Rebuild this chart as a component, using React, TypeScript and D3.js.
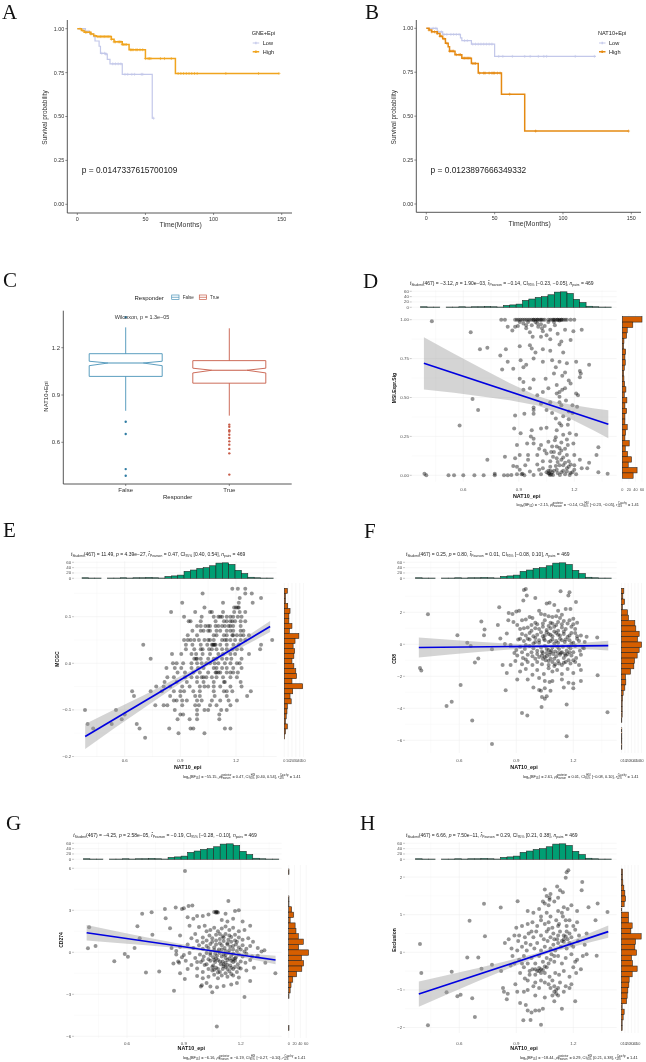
import React from 'react';
import * as d3 from 'd3';

type Pt = [number, number];
type Part = string | { i?: string; sub?: string; sup?: string };

// ---- survival curves, [months, probability]
const gneLow: Pt[] = [[0, 1], [6, 0.985], [9, 0.97], [12, 0.955], [13, 0.93], [16, 0.9], [17, 0.86], [21, 0.855], [22, 0.825], [24, 0.8], [33, 0.74], [55, 0.49], [56, 0.49]];
const gneHigh: Pt[] = [[0, 1], [3, 0.99], [5, 0.98], [10, 0.97], [12, 0.96], [14, 0.955], [25, 0.94], [27, 0.925], [33, 0.91], [38, 0.88], [50, 0.83], [72, 0.745], [148, 0.745]];
const gneLowCens = [2, 6, 8, 18, 20, 21, 26, 28, 30, 32, 35, 37, 40, 42, 47, 48, 56];
const gneHighCens = [4, 6, 7, 9, 10, 13, 15, 16, 17, 18, 19, 20, 21, 22, 23, 24, 25, 27, 28, 30, 31, 32, 33, 34, 35, 36, 39, 40, 41, 43, 44, 46, 48, 50, 52, 53, 54, 61, 64, 69, 74, 76, 78, 80, 82, 84, 86, 88, 109, 133, 148];
const natLow: Pt[] = [[0, 1], [8, 0.98], [12, 0.965], [25, 0.945], [26, 0.93], [33, 0.91], [50, 0.84], [124, 0.84]];
const natHigh: Pt[] = [[0, 1], [2, 0.99], [4, 0.98], [8, 0.97], [10, 0.955], [12, 0.94], [14, 0.915], [16, 0.895], [17, 0.87], [21, 0.85], [26, 0.83], [33, 0.8], [38, 0.745], [55, 0.625], [72, 0.415], [148, 0.415]];
const natLowCens = [5, 7, 9, 11, 13, 15, 18, 20, 22, 24, 28, 30, 34, 36, 38, 40, 42, 44, 46, 48, 53, 56, 63, 72, 76, 82, 86, 88, 109, 123];
const natHighCens = [2, 4, 6, 8, 10, 11, 13, 15, 17, 18, 19, 20, 22, 24, 25, 27, 28, 29, 30, 31, 32, 34, 35, 36, 39, 42, 43, 46, 48, 49, 50, 52, 54, 61, 80, 148];

// ---- boxplot
const boxGroups = ['False', 'True'];
const boxStats = [
  { lo: 0.8, q1: 1.018, nlo: 1.086, med: 1.103, nhi: 1.114, q3: 1.162, hi: 1.329 },
  { lo: 0.769, q1: 0.975, nlo: 1.04, med: 1.057, nhi: 1.07, q3: 1.118, hi: 1.323 },
];
const boxOutFalse = [1.393, 0.73, 0.653, 0.43, 0.388];
const boxOutTrue = [0.712, 0.698, 0.677, 0.668, 0.648, 0.627, 0.606, 0.585, 0.558, 0.53, 0.395];

// ---- marginal histograms
const xCounts = [2, 1, 1, 0, 1, 1, 2, 1, 2, 2, 3, 2, 1, 7, 9, 12, 26, 31, 37, 40, 47, 57, 58, 52, 30, 18, 4, 2, 1, 1];
const dHist = [60, 32, 15, 13, 5, 4, 10, 8, 9, 6, 4, 5, 7, 11, 6, 14, 8, 13, 8, 8, 15, 10, 8, 21, 9, 16, 28, 18, 45, 33];
const eHist = [8, 3, 3, 9, 15, 12, 12, 20, 13, 38, 28, 23, 27, 25, 20, 25, 30, 32, 20, 48, 22, 15, 18, 8, 7, 5, 3, 8, 3, 1];
const fHist = [7, 4, 9, 3, 18, 21, 40, 43, 53, 48, 60, 53, 47, 39, 37, 27, 12, 13, 10, 5, 3, 2, 2, 2, 1, 0, 1, 1, 1, 1];
const gHist = [1, 0, 0, 0, 0, 1, 1, 10, 17, 5, 22, 25, 33, 50, 34, 68, 44, 51, 45, 27, 14, 8, 5, 1, 0, 0, 0, 0, 0, 1];
const hHist = [3, 3, 4, 7, 10, 12, 8, 1, 21, 21, 32, 28, 59, 42, 40, 45, 30, 33, 47, 32, 23, 22, 19, 17, 15, 2, 8, 5, 2, 2];

// ---- regression bands, read at these x positions
const bandX = [0.387, 0.55, 0.7, 0.85, 1.0, 1.1, 1.2, 1.3, 1.384];
const dHi = [0.888, 0.781, 0.687, 0.593, 0.509, 0.473, 0.45, 0.431, 0.418];
const dLo = [0.552, 0.531, 0.507, 0.483, 0.449, 0.407, 0.35, 0.291, 0.238];
const eHi = [-0.13, -0.098, -0.069, -0.038, -0.007, 0.017, 0.042, 0.069, 0.091];
const eLo = [-0.184, -0.138, -0.097, -0.056, -0.017, 0.007, 0.028, 0.049, 0.067];
const fHi = [0.42, 0.28, 0.157, 0.055, -0.017, -0.005, 0.067, 0.149, 0.22];
const fLo = [-0.82, -0.64, -0.483, -0.345, -0.237, -0.225, -0.273, -0.331, -0.38];
const gHi = [1.95, 1.49, 1.08, 0.68, 0.3, 0.11, -0.04, -0.16, -0.24];
const gLo = [0.85, 0.67, 0.5, 0.32, 0.1, -0.09, -0.34, -0.62, -0.86];
const hHi = [-0.775, -0.59, -0.415, -0.23, -0.03, 0.14, 0.33, 0.54, 0.71];
const hLo = [-1.445, -1.09, -0.765, -0.45, -0.15, 0.02, 0.15, 0.28, 0.39];
const dLine: Pt = [0.72, 0.328];
const eLine: Pt = [-0.157, 0.079];
const fLine: Pt = [-0.2, -0.08];
const gLine: Pt = [1.4, -0.55];
const hLine: Pt = [-1.11, 0.55];

// ---- scatter points
const dPts: Pt[] = [
  [.39,.01],[.40,0],[.43,.99],[.52,0],[.55,0],[.60,0],[.66,0],[.71,0],[.77,.01],[.77,0],[.82,0],[.84,0],[.58,.32],[.65,.49],[.68,.42],[.64,.92],[.69,.81],[.73,.82],[.73,.10],[.83,.81],[.80,.77],[.84,.73],[.81,.68],[.805,1],[.825,1],[.84,.955],[1.28,.71],[1.33,.18],[1.32,.13],[1.33,.02],[1.38,.01],[1.28,.08],[1.27,.045],[1.23,.67],[1.23,.63],
  [.88,1],[.89,1],[.90,1],[.91,1],[.92,1],[.93,1],[.94,1],[.95,1],[.96,1],[.97,1],[.98,1],[.99,1],[1,1],[1.01,1],[1.02,1],[1.03,1],[1.04,1],[1.06,1],[1.07,1],[1.08,1],[1.09,1],[1.1,1],[1.11,1],[1.12,1],[1.13,1],[1.14,1],[1.15,1],[1.16,1],[1.18,1],[1.2,1],[.98,1],[1.0,1],[1.02,1],[1.09,1],[1.11,1],[1.13,1],
  [.88,.955],[.905,.985],[.925,.975],[.94,.965],[.99,.985],[1.005,.955],[1.025,.945],[1.03,.925],[1.07,.935],[1.095,.965],[1.12,.995],[1.15,.935],[1.195,.925],[1.24,.935],[.94,.945],[.865,.93],[.895,.96],[.975,.89],[1.02,.89],[1.07,.875],[1.13,.86],[1.12,.84],[1.18,.87],[.905,.83],[.96,.835],[.97,.815],[1.03,.81],[.99,.79],[1.07,.8],[.91,.74],[.98,.75],[.94,.71],[1.03,.73],[1.08,.74],[1.12,.73],[1.16,.72],[1.21,.73],[.925,.695],[1.1,.695],[.87,.685],[.905,.62],[.925,.6],[.98,.615],[1.045,.62],[1.135,.64],[1.17,.61],[1.235,.655],[1.06,.56],[1.105,.58],[1.18,.59],[1.135,.55],[1.15,.56],[1.105,.525],[1.12,.535],[.925,.55],[.96,.56],[1,.515],[1.03,.535],[1.21,.525],[1.22,.515],[1.12,.505],[1.07,.47],[1.02,.46],[.98,.435],[.98,.42],[1.13,.45],[1.19,.45],[1.215,.44],[1.17,.41],[1.19,.4],[.88,.385],[.93,.395],[.98,.395],[1.1,.365],[1.12,.335],[1.13,.32],[1.165,.325],[1.05,.305],[1.02,.3],[.97,.29],[.875,.3],[.91,.27],[.965,.25],[.98,.235],[1.105,.29],[1.14,.26],[1.175,.27],[1.21,.26],
  [.89,.195],[.945,.205],[.98,.205],[1.02,.195],[1.06,.215],[1.095,.225],[1.08,.185],[1.04,.16],[1.105,.185],[1.13,.16],[1.165,.195],[1.195,.205],[.905,.13],[.95,.13],[1.0,.13],[1.05,.14],[1.085,.12],[1.12,.14],[1.16,.13],[1.2,.13],[.88,.11],[.825,.12],[.95,.1],[1.03,.09],[1.07,.09],[1.105,.11],[1.13,.1],[1.17,.09],[1.23,.1],[.87,.06],[.89,.055],[.935,.065],[1.0,.07],[1.03,.045],[1.07,.055],[1.12,.065],[1.14,.065],[1.17,.055],[1.2,.065],[1.24,.045],[.905,.035],[.96,.025],[1.01,.035],[1.06,.03],[1.105,.035],[1.16,.025],[1.2,.035],[.86,.002],[.89,.006],[.915,.006],[.93,0],[.98,.002],[1.02,.006],[1.06,.013],[1.068,.002],[1.085,.002],[1.122,.002],[1.15,.006],[1.175,.002],[1.21,.006],[1.065,.01],[1.075,.005],[1.13,.02],[1.18,.015],[.92,.01],
  [1.08,.02],[1.09,.03],[1.11,.015],[1.14,.03],[1.16,.045],[1.19,.02],[1.05,.02],[1.07,.03],[1.1,.06],[1.15,.08],[1.18,.07],[1.11,.085],[1.09,.15],[1.12,.175],[1.15,.17],[1.14,.115],[1.075,.15],[1.01,.17],[1.1,.245],[1.13,.21],[1.16,.23],[.95,.985],[.97,.965],[1.0,.975],[1.04,.96],[1.06,.985],[1.09,.985],[1.02,.97],[1.11,.91],[1.05,.9],[.96,.92],[1.14,.79],[1.09,.655],[1.15,.66],[1.12,.47],[1.155,.48],[1.17,.36],[1.14,.38],[1.08,.4],[1.05,.42],
];

const eRows: [number, number[]][] = [
  [.16, [1.18, 1.21, 1.25]],
  [.15, [1.02, 1.25, 1.285]],
  [.14, [1.22, 1.335]],
  [.13, [.91, 1.13, 1.215, 1.29]],
  [.12, [1.03, 1.19, 1.2, 1.21, 1.215]],
  [.11, [.85, .98, 1.06, 1.07, 1.13, 1.19, 1.22, 1.25]],
  [.10, [.92, 1.015, 1.08, 1.105, 1.115, 1.125, 1.15, 1.17, 1.185, 1.21, 1.23]],
  [.09, [.945, .955, 1.01, 1.09, 1.135, 1.15, 1.17, 1.18, 1.195, 1.225, 1.25]],
  [.08, [.99, 1.01, 1.035, 1.05, 1.06, 1.09, 1.105, 1.125, 1.14, 1.16, 1.17, 1.185, 1.225]],
  [.07, [.965, 1.01, 1.025, 1.05, 1.06, 1.095, 1.115, 1.15, 1.17, 1.185, 1.225, 1.24]],
  [.06, [.94, .99, 1.08, 1.095, 1.135, 1.15, 1.18, 1.185, 1.205, 1.225, 1.24, 1.27]],
  [.05, [.92, .94, .955, .975, 1.0, 1.03, 1.05, 1.06, 1.08, 1.125, 1.14, 1.15, 1.17, 1.195, 1.225, 1.25, 1.395]],
  [.04, [.70, .93, .965, 1.01, 1.045, 1.07, 1.08, 1.09, 1.115, 1.15, 1.186, 1.215, 1.335, 1.075, 1.085]],
  [.03, [.93, .975, 1.01, 1.02, 1.055, 1.07, 1.095, 1.125, 1.15, 1.18, 1.205, 1.23, 1.33]],
  [.02, [.855, .905, .96, .985, 1.02, 1.06, 1.105, 1.13, 1.17, 1.195, 1.27]],
  [.01, [.74, .975, .985, .99, 1.01, 1.05, 1.08, 1.095, 1.125, 1.15, 1.175, 1.23]],
  [0, [.86, .88, .915, .96, .99, 1.015, 1.04, 1.06, 1.085, 1.105, 1.14, 1.17, 1.205, 1.22]],
  [-.01, [.825, .87, .905, .96, .995, 1.025, 1.08, 1.095, 1.125, 1.15, 1.185, 1.23]],
  [-.02, [.885, .925, .97, 1.005, 1.05, 1.09, 1.095, 1.105, 1.115, 1.15, 1.17, 1.185, 1.21]],
  [-.03, [.83, .865, .925, .96, .99, 1.015, 1.025, 1.04, 1.07, 1.095, 1.13, 1.17, 1.205]],
  [-.04, [.815, .88, .935, .99, 1.025, 1.08, 1.135, 1.14, 1.225]],
  [-.05, [.77, .81, .845, .91, .95, 1.005, 1.03, 1.05, 1.08, 1.115, 1.17, 1.23]],
  [-.06, [.64, .74, .80, .865, .90, .92, .97, 1.005, 1.08, 1.135, 1.15, 1.18, 1.28]],
  [-.07, [.65, .845, .90, .98, 1.005, 1.085, 1.15, 1.26]],
  [-.08, [.865, .88, .91, .935, .99, 1.015, 1.07, 1.115, 1.16, 1.205]],
  [-.09, [.765, .81, .83, .91, .98, 1.0, 1.06, 1.095, 1.17]],
  [-.10, [.386, .553, .87, .99, 1.03, 1.05, 1.12, 1.15]],
  [-.11, [.60, .90, .915, .99, 1.11]],
  [-.12, [.584, .885, .95, .99, 1.11]],
  [-.13, [.40, .53, .665]],
  [-.14, [.43, .68, .84, .955, .97, 1.14, 1.17]],
  [-.15, [.89, 1.03]],
  [-.16, [.71]],
];

const fPts: Pt[] = [
  [.393,-1.48],[.40,-1.63],[.435,1.88],[.533,-3.86],[.56,-3.59],[.607,-2.54],[.59,.56],[.642,.1],[.66,-.1],[.668,-4.76],[.682,-1.13],[.70,-.89],[.716,1.42],[.733,.93],[.73,.56],[.772,-.31],[.772,-6.23],[.803,1.2],[.81,2.31],[.816,.37],[.828,-1.3],[.844,-2.87],[.84,.02],[.858,1.5],[.85,.68],[.86,1.95],[.93,-4.29],[.958,-4.45],[1.033,-3.92],[1.165,-3.77],[1.165,-5.75],[1.38,-4.25],[1.326,.43],[1.328,-1.94],[1.27,.47],[1.256,-.25],[1.214,2.64],[.94,3.4],[.95,3.46],[.937,2.74],[.955,3.05],[1.0,2.9],[1.133,3.32],[1.18,3.26],[1.174,3.05],
  [.88,1.9],[.9,2.05],[.915,2.1],[.885,1.4],[.905,1.2],[.93,1.5],[.95,1.55],[.97,1.7],[.985,1.65],[1.0,1.35],[1.02,2.1],[1.03,1.9],[1.05,1.85],[1.06,2.55],[1.075,2.6],[1.1,2.45],[1.12,2.1],[1.14,1.85],[1.16,2.2],[1.185,2.2],[1.2,1.6],[1.07,1.75],[1.09,1.7],[1.11,1.75],[1.13,1.65],[1.05,1.5],[1.08,1.35],[1.12,1.4],[1.15,1.45],[1.18,1.5],[1.22,1.35],
  [.92,.95],[.94,1.0],[.96,1.05],[.98,.85],[1.0,1.0],[1.02,.95],[1.04,1.1],[1.06,.9],[1.08,1.0],[1.1,1.1],[1.12,.85],[1.14,1.05],[1.16,.95],[1.19,1.1],[1.21,.95],[.93,.65],[.95,.55],[.97,.7],[.99,.5],[1.01,.6],[1.03,.75],[1.05,.55],[1.07,.65],[1.09,.5],[1.11,.7],[1.13,.55],[1.15,.65],[1.17,.45],[1.19,.7],[1.22,.5],[1.24,.55],[.91,.3],[.94,.2],[.97,.3],[1.0,.15],[1.02,.25],[1.045,.35],[1.07,.15],[1.09,.3],[1.11,.2],[1.13,.35],[1.155,.15],[1.18,.25],[1.2,.1],[1.23,.2],[1.26,.15],
  [.87,-.05],[.89,-.55],[.92,-.15],[.945,-.3],[.97,-.1],[.99,-.25],[1.01,-.4],[1.03,-.2],[1.05,-.1],[1.07,-.35],[1.09,-.2],[1.105,-.45],[1.125,-.3],[1.145,-.15],[1.165,-.4],[1.185,-.25],[1.21,-.1],[1.235,-.4],[1.25,-.2],[.905,-.7],[.935,-.85],[.96,-.65],[.985,-.75],[1.01,-.6],[1.035,-.7],[1.05,-.8],[1.06,-.55],[1.075,-.65],[1.08,-.9],[1.095,-.6],[1.11,-.75],[1.13,-.65],[1.15,-.85],[1.17,-.6],[1.19,-.7],[1.215,-.85],[1.24,-.65],[.87,-1.3],[.895,-1.05],[.93,-1.25],[.96,-1.1],[.985,-1.3],[1.01,-1.1],[1.035,-1.25],[1.055,-1.0],[1.07,-1.3],[1.09,-1.1],[1.105,-1.25],[1.12,-1.05],[1.14,-1.3],[1.16,-1.1],[1.185,-1.2],[1.21,-1.1],[1.23,-1.3],[.85,-1.8],[.92,-1.7],[.95,-1.55],[.985,-1.9],[1.01,-1.6],[1.045,-1.85],[1.07,-1.5],[1.09,-1.7],[1.115,-1.6],[1.14,-1.85],[1.17,-1.55],[1.2,-1.8],[1.24,-1.6],[.905,-2.2],[.96,-2.2],[1.02,-2.1],[1.05,-2.3],[1.075,-2.35],[1.09,-2.3],[1.14,-2.2],[1.175,-2.4],[1.2,-2.45],[1.24,-2.3],[.99,-2.7],[1.02,-2.85],[1.03,-2.9],[1.05,-2.75],[1.08,-2.9],[1.15,-2.7],[1.2,-2.75],[1.035,-3.3],[1.05,-3.4],[1.06,-3.25],
  [1.04,-.55],[1.06,-.75],[1.08,-.5],[1.1,-.9],[1.12,-.55],[1.14,-.5],[1.16,-.7],[1.18,-.5],[1.035,-.45],[1.06,-.3],[1.085,-.4],[1.115,-.15],[1.135,-.55],[1.155,-.6],[1.175,-.15],[1.2,-.5],[1.02,-.8],[1.04,-.9],[1.07,-1.05],[1.1,-1.35],[1.125,-1.2],[1.15,-1.15],[1.175,-1.0],[1.2,-1.0],[.99,.05],[1.02,.1],[1.05,.25],[1.08,.2],[1.1,.05],[1.12,.1],[1.14,.25],[1.16,.3],[1.19,.05],[1.22,.35],[1.0,.4],[1.04,.5],[1.06,.75],[1.08,.6],[1.1,.8],[1.12,.6],[1.15,.8],[1.18,.55],[1.21,.7],[.98,1.2],[1.01,1.25],[1.04,1.3],[1.07,1.15],[1.09,1.3],[1.11,1.2],[1.14,1.25],[1.17,1.3],[1.2,1.25],[.96,.35],[.95,-.05],[.93,-.5],[.98,-.5],[1.0,-.9],[.95,-.95],[.92,.35],[.9,-.35],
];

const gPts: Pt[] = [
  [.906,5.81],[.394,.29],[.40,1.79],[.434,.45],[.533,-.64],[.588,-.12],[.605,-.31],[.64,.31],[.655,1.86],[.68,2.76],[.667,1.0],[.70,-1.45],[.73,2.86],[.734,1.26],[.77,-1.38],[.80,3.1],[.804,2.43],[.827,1.71],[.848,-2.74],[.857,3.2],[.89,3.1],[.9,3.15],[.925,3.3],[.945,3.35],[1.074,-5.3],[1.22,-3.2],[1.135,3.67],[1.383,-1.5],[1.33,-.75],[1.325,.15],
  [.835,.3],[.86,.1],[.845,-.8],[.87,-.65],[.9,-.2],[.88,1.2],[.92,2.5],[.93,1.9],[.95,2.4],[.97,2.6],[.96,1.3],[1.0,2.6],[1.03,2.7],[1.07,2.9],[1.075,2.88],[1.12,2.75],[1.17,2.95],[1.19,3.0],[1.1,2.3],[1.13,2.2],[1.16,2.4],[1.21,2.2],[1.25,1.9],
  [.98,1.8],[1.01,1.9],[1.02,1.5],[1.04,1.6],[1.06,1.75],[1.08,1.5],[1.1,1.7],[1.12,1.85],[1.14,1.6],[1.16,1.75],[1.19,1.5],[1.22,1.6],[.94,1.0],[.97,.8],[1.0,1.05],[1.02,.85],[1.035,1.2],[1.05,1.0],[1.07,1.25],[1.09,.95],[1.105,1.15],[1.12,1.3],[1.135,.9],[1.15,1.1],[1.17,.85],[1.19,1.05],[1.21,.9],[1.24,1.0],[1.265,.75],
  [.88,.4],[.92,.55],[.95,.3],[.98,.5],[1.0,.25],[1.02,.45],[1.04,.6],[1.06,.35],[1.07,.55],[1.085,.2],[1.1,.5],[1.115,.3],[1.13,.65],[1.145,.4],[1.16,.2],[1.175,.55],[1.19,.35],[1.21,.5],[1.23,.25],[1.25,.45],[1.29,.3],[1.31,.05],[.86,-.15],[.89,-.35],[.93,-.05],[.96,-.4],[.985,-.15],[1.005,-.3],[1.02,-.05],[1.04,-.2],[1.055,-.35],[1.065,-.1],[1.075,-.25],[1.09,-.05],[1.1,-.3],[1.11,-.15],[1.12,-.4],[1.135,-.05],[1.15,-.25],[1.16,-.1],[1.175,-.35],[1.19,-.15],[1.21,-.3],[1.23,-.1],[1.26,-.3],[1.29,-.25],
  [.875,-.75],[.91,-.6],[.94,-.9],[.97,-.7],[1.0,-.55],[1.02,-.85],[1.04,-.6],[1.055,-.95],[1.065,-.7],[1.08,-.55],[1.095,-.85],[1.105,-.65],[1.12,-.75],[1.13,-.55],[1.145,-.95],[1.16,-.7],[1.17,-.6],[1.185,-.85],[1.2,-.65],[1.225,-.75],[1.25,-.55],[.92,-1.2],[.97,-1.15],[1.0,-1.4],[1.03,-1.2],[1.05,-1.3],[1.07,-1.1],[1.09,-1.4],[1.105,-1.2],[1.12,-1.05],[1.14,-1.35],[1.16,-1.2],[1.18,-1.4],[1.2,-1.15],[1.23,-1.3],[1.27,-1.1],[.97,-1.7],[1.0,-1.85],[1.03,-1.75],[1.06,-1.6],[1.08,-1.85],[1.1,-1.65],[1.13,-1.75],[1.16,-1.65],[1.19,-1.8],[1.25,-2.05],[.99,-2.45],[.995,-2.35],[1.02,-2.2],[1.04,-2.45],[1.05,-2.85],[1.075,-2.5],[1.11,-2.4],[1.15,-2.3],[1.18,-2.2],[.905,-1.9],[.88,-1.5],
  [1.07,-.45],[1.09,-.65],[1.11,-.85],[1.13,-.9],[1.15,-.6],[1.17,-.45],[1.12,-.2],[1.14,-.45],[1.16,-.5],[1.06,-.55],[1.04,-.05],[1.06,.15],[1.08,.05],[1.1,.2],[1.12,.1],[1.14,.15],[1.16,.45],[1.18,.1],[1.2,.2],[1.22,.05],[1.0,.7],[1.03,.3],[1.05,.75],[1.07,.85],[1.09,.65],[1.11,.8],[1.13,.55],[1.15,.75],[1.18,.75],[1.06,2.88],[1.07,2.82],[1.08,2.85],[1.09,1.3],[1.11,1.05],[1.14,1.2],[1.17,1.25],[.99,-.7],[1.01,-.9],[1.03,-.5],[1.05,-1.05],[1.08,-1.2],[1.11,-1.0],[1.13,-1.2],[1.15,-1.1],[1.17,-1.05],[1.19,-1.1],[1.08,-1.45],[1.12,-1.5],[1.15,-1.55],[1.06,-1.25],
];

const hPts: Pt[] = [
  [.393,.22],[.40,-.55],[.435,-1.94],[.56,-.52],[.533,-1.06],[.59,-1.17],[.607,-1.13],[.642,-.14],[.654,.84],[.668,-1.22],[.682,-1.72],[.70,-.14],[.73,1.29],[.735,.43],[.717,-.44],[.772,-.33],[.818,1.19],[.907,1.36],[.937,-1.81],[1.03,-1.93],[1.328,1.3],[1.38,1.07],[1.323,-.09],[1.317,.85],[1.28,1.2],[1.174,2.18],[1.165,2.13],[1.16,1.98],[1.247,1.87],[1.244,1.65],[1.05,1.67],
  [.82,-.5],[.83,-.95],[.835,-1.05],[.85,-1.25],[.855,-1.1],[.84,.25],[.86,.35],[.87,-.35],[.88,-.1],[.895,-.85],[.905,-1.05],[.92,-1.35],[.94,-1.05],[.95,-1.4],[.96,-1.55],[.98,-1.6],[1.0,-1.55],[1.02,-1.55],[1.04,-1.5],[.975,-1.8],[1.1,-1.3],[1.14,-1.5],[1.21,-1.3],[1.11,-1.1],[1.05,-1.2],[1.0,-1.15],[.96,-1.0],[.99,-.9],
  [1.02,-.95],[1.07,-.85],[1.1,-1.05],[1.12,-.95],[1.16,-.9],[1.19,-.85],[.92,-.55],[.945,-.7],[.97,-.5],[.985,-.45],[1.0,-.6],[1.02,-.5],[1.03,-.45],[1.05,-.55],[1.06,-.4],[1.075,-.65],[1.09,-.75],[1.105,-.55],[1.125,-.6],[1.15,-.5],[1.18,-.65],[1.215,-.55],[1.24,-.45],[.89,-.3],[.915,-.2],[.94,-.1],[.96,-.3],[.98,-.15],[1.0,-.3],[1.02,-.1],[1.04,-.25],[1.06,-.15],[1.07,-.3],[1.085,-.05],[1.1,-.25],[1.12,-.1],[1.14,-.3],[1.16,-.15],[1.19,-.05],[1.21,-.25],[1.25,-.1],[1.27,-.05],
  [.875,.1],[.905,.05],[.93,.15],[.955,.05],[.975,.2],[.995,.1],[1.01,.25],[1.03,.05],[1.05,.15],[1.065,.3],[1.08,.1],[1.095,.2],[1.105,.05],[1.12,.25],[1.135,.15],[1.15,.35],[1.165,.1],[1.18,.25],[1.2,.15],[1.225,.3],[1.26,.2],[.89,.45],[.915,.45],[.945,.4],[.965,.5],[.99,.4],[1.005,.55],[1.03,.45],[1.045,.35],[1.06,.55],[1.08,.4],[1.095,.5],[1.115,.35],[1.13,.55],[1.15,.45],[1.165,.55],[1.19,.4],[1.21,.6],[1.23,.45],[1.27,.5],[.9,.65],[.93,.7],[.96,.75],[.985,.8],[1.01,.7],[1.03,.85],[1.05,.75],[1.07,.8],[1.09,.65],[1.11,.85],[1.125,.75],[1.145,.95],[1.165,.7],[1.18,.85],[1.2,.7],[1.22,.8],[1.03,.95],
  [.96,1.1],[.99,1.05],[1.02,1.15],[1.05,1.3],[1.07,1.25],[1.075,1.4],[1.1,1.35],[1.12,1.45],[1.14,1.05],[1.17,1.15],[1.19,1.25],[1.22,1.1],[1.06,1.5],[1.08,1.55],[1.115,1.75],[1.13,1.65],[1.145,1.6],[1.075,1.45],[1.04,1.35],
  [1.0,-.45],[1.01,-.5],[1.02,-.42],[1.03,-.55],[1.04,-.47],[1.05,-.38],[.97,-.6],[1.08,-.2],[1.1,-.1],[1.14,.3],[1.15,.28],[1.16,.42],[1.17,.35],[1.18,.5],[1.12,.45],[1.1,.35],[1.08,-.95],[1.1,-.9],[1.11,-1.0],[1.09,-1.15],[1.12,-1.15],[1.13,-.8],[1.15,-1.05],[1.18,-.95],[1.05,-.8],[1.03,-.75],[1.0,-.8],[.96,-.75],[.94,-.4],[1.2,-.4],[1.22,-.2],[1.19,.2],[1.12,.7],[1.16,.85],[1.07,.62],[.98,.55],[.95,.25],[.91,.3],[.93,-.3],[1.12,1.1],[1.15,1.2],[1.08,.95],[1.06,1.05],
];

// ---- texts
const eStats = ['11.49', '4.39e−27', '0.47', '[0.40, 0.54]', '−55.15', '0.47', '[0.40, 0.54]'];
const dStats = ['−3.12', '1.90e−03', '−0.14', '[−0.23, −0.05]', '−2.15', '−0.14', '[−0.23, −0.05]'];
const fStats = ['0.25', '0.80', '0.01', '[−0.08, 0.10]', '2.61', '0.01', '[−0.08, 0.10]'];
const gStats = ['−4.25', '2.58e−05', '−0.19', '[−0.28, −0.10]', '−6.16', '−0.19', '[−0.27, −0.10]'];
const hStats = ['6.66', '7.50e−11', '0.29', '[0.21, 0.38]', '−18.44', '0.29', '[0.21, 0.38]'];

const SANS = '"Liberation Sans", Arial, sans-serif';
const GREY = '#4d4d4d';

const Stat = ({ x, y, size, parts, anchor }: { x: number; y: number; size: number; parts: Part[]; anchor?: string }) => (
  <text x={x} y={y} fontSize={size} fontFamily={SANS} fill="#222" textAnchor={anchor}>
    {parts.map((p, i) => {
      if (typeof p === 'string') return <tspan key={i} y={y}>{p}</tspan>;
      if (p.i) return <tspan key={i} y={y} fontStyle="italic">{p.i}</tspan>;
      const small = size * 0.66;
      return (
        <React.Fragment key={i}>
          {p.sub && <tspan y={y + size * 0.28} fontSize={small}>{p.sub}</tspan>}
          {p.sup && <tspan y={y - size * 0.42} fontSize={small} dx={p.sub ? -p.sub.length * small * 0.5 : 0}>{p.sup}</tspan>}
        </React.Fragment>
      );
    })}
  </text>
);

const topParts = (s: string[]): Part[] => [
  { i: 't' }, { sub: 'Student' }, '(467) = ' + s[0] + ', ', { i: 'p' }, ' = ' + s[1] + ', ', { i: 'r̂' }, { sub: 'Pearson' },
  ' = ' + s[2] + ', CI', { sub: '95%' }, ' ' + s[3] + ', ', { i: 'n' }, { sub: 'pairs' }, ' = 469',
];
const bottomParts = (s: string[]): Part[] => [
  'log', { sub: 'e' }, '(BF', { sub: '01' }, ') = ' + s[4] + ', ', { i: 'ρ̂' }, { sub: 'Pearson', sup: 'posterior' },
  ' = ' + s[5] + ', CI', { sub: '95%', sup: 'HDI' }, ' ' + s[6] + ', ', { i: 'r' }, { sub: 'JZS', sup: 'Cauchy' }, ' = 1.41',
];

interface KmProps {
  lowCurve: Pt[]; highCurve: Pt[]; lowCens: number[]; highCens: number[]; legend: string; p: string;
  x0: number; x150: number; y0: number; y1: number; axisX: number; axisY: number; right: number;
  legendX: number; pX: number; high: string;
}

const KmPanel = (k: KmProps) => {
  const x = d3.scaleLinear().domain([0, 150]).range([k.x0, k.x150]);
  const y = d3.scaleLinear().domain([0, 1]).range([k.y0, k.y1]);
  const line = d3.line<Pt>().x(d => x(d[0])).y(d => y(d[1])).curve(d3.curveStepAfter);
  const at = (c: Pt[], t: number) => c[Math.max(0, d3.bisectRight(c.map(d => d[0]), t) - 1)][1];
  const series = [
    { c: k.lowCurve, cens: k.lowCens, col: '#c3c8ea', w: 1.2 },
    { c: k.highCurve, cens: k.highCens, col: k.high, w: 1.5 },
  ];
  return (
    <g>
      <line x1={k.axisX} x2={k.axisX} y1={20} y2={k.axisY} stroke="#444" strokeWidth={0.9} />
      <line x1={k.axisX} x2={k.right} y1={k.axisY} y2={k.axisY} stroke="#444" strokeWidth={0.9} />
      {[0, 50, 100, 150].map(t => (
        <g key={t}>
          <line x1={x(t)} x2={x(t)} y1={k.axisY} y2={k.axisY + 2} stroke="#444" strokeWidth={0.6} />
          <text x={x(t)} y={k.axisY + 7.5} fontSize={5.4} fontFamily={SANS} textAnchor="middle" fill="#333">{t}</text>
        </g>
      ))}
      {[0, 0.25, 0.5, 0.75, 1].map(t => (
        <g key={t}>
          <line x1={k.axisX - 2} x2={k.axisX} y1={y(t)} y2={y(t)} stroke="#444" strokeWidth={0.6} />
          <text x={k.axisX - 3} y={y(t) + 1.9} fontSize={5.4} fontFamily={SANS} textAnchor="end" fill="#333">{t.toFixed(2)}</text>
        </g>
      ))}
      <text x={(k.axisX + k.right) / 2 + 1} y={k.axisY + 14} fontSize={6.9} fontFamily={SANS} textAnchor="middle" fill="#333">Time(Months)</text>
      <text transform={`translate(${k.axisX - 20},${(k.y0 + k.y1) / 2 + 1}) rotate(-90)`} fontSize={6.5} fontFamily={SANS} textAnchor="middle" fill="#333">Survival probability</text>
      {series.map((s, i) => (
        <g key={i}>
          <path d={line(s.c) || ''} fill="none" stroke={s.col} strokeWidth={s.w} />
          {s.cens.map((t, j) => (
            <path key={j} d={`M${x(t)},${y(at(s.c, t)) - 1.5}v3M${x(t) - 1.5},${y(at(s.c, t))}h3`} stroke={s.col} strokeWidth={0.6} />
          ))}
        </g>
      ))}
      <text x={k.pX} y={172.5} fontSize={8.4} fontFamily={SANS} fill="#222">{k.p}</text>
      <text x={k.legendX} y={35} fontSize={5.6} fontFamily={SANS} fill="#222">{k.legend}</text>
      {['Low', 'High'].map((l, i) => (
        <g key={l}>
          <path d={`M${k.legendX + 1},${43 + i * 8.8}h6.5M${k.legendX + 4.2},${41.7 + i * 8.8}v2.6`} stroke={series[i].col} strokeWidth={series[i].w} />
          <text x={k.legendX + 11} y={45 + i * 8.8} fontSize={5.6} fontFamily={SANS} fill="#222">{l}</text>
        </g>
      ))}
    </g>
  );
};

const BoxPanel = () => {
  const y = d3.scaleLinear().domain([0.6, 1.2]).range([442.3, 347.7]);
  const x = d3.scalePoint().domain(boxGroups).range([125.7, 229.3]);
  const cols = ['#4a93b8', '#c75c48'];
  const outs = [boxOutFalse, boxOutTrue];
  const half = 36.5;
  const waist = 17.5;
  return (
    <g>
      <line x1={63.3} x2={63.3} y1={310.7} y2={484} stroke="#444" strokeWidth={0.9} />
      <line x1={63.3} x2={291.7} y1={484} y2={484} stroke="#444" strokeWidth={0.9} />
      {[0.6, 0.9, 1.2].map(t => (
        <g key={t}>
          <line x1={61.3} x2={63.3} y1={y(t)} y2={y(t)} stroke="#444" strokeWidth={0.6} />
          <text x={60} y={y(t) + 2.1} fontSize={6} fontFamily={SANS} textAnchor="end" fill="#333">{t.toFixed(1)}</text>
        </g>
      ))}
      {boxGroups.map((g, i) => {
        const cx = x(g) as number;
        const s = boxStats[i];
        const body = `M${cx - half},${y(s.q3)}V${y(s.nhi)}L${cx - waist},${y(s.med)}L${cx - half},${y(s.nlo)}V${y(s.q1)}H${cx + half}V${y(s.nlo)}L${cx + waist},${y(s.med)}L${cx + half},${y(s.nhi)}V${y(s.q3)}Z`;
        return (
          <g key={g}>
            <line x1={cx} x2={cx} y1={484} y2={486} stroke="#444" strokeWidth={0.6} />
            <text x={cx} y={492} fontSize={6} fontFamily={SANS} textAnchor="middle" fill="#333">{g}</text>
            <path d={`M${cx},${y(s.q3)}V${y(s.hi)}M${cx},${y(s.q1)}V${y(s.lo)}`} stroke={cols[i]} strokeWidth={0.9} />
            <path d={body} fill="none" stroke={cols[i]} strokeWidth={0.9} />
            <line x1={cx - waist} x2={cx + waist} y1={y(s.med)} y2={y(s.med)} stroke={cols[i]} strokeWidth={1.1} />
            {outs[i].map((v, j) => <circle key={j} cx={cx} cy={y(v)} r={1.2} fill={i === 0 ? '#2f7ca3' : cols[i]} />)}
          </g>
        );
      })}
      <text x={177.7} y={498.5} fontSize={6} fontFamily={SANS} textAnchor="middle" fill="#222">Responder</text>
      <text transform={`translate(47.5,${396.5}) rotate(-90)`} fontSize={6} fontFamily={SANS} textAnchor="middle" fill="#222">NAT10+Epi</text>
      <text x={114.7} y={318.7} fontSize={5.5} fontFamily={SANS} fill="#333">Wilcoxon, p = 1.3e−05</text>
      <text x={134.5} y={299.5} fontSize={6} fontFamily={SANS} fill="#222">Responder</text>
      {boxGroups.map((g, i) => (
        <g key={g}>
          <rect x={171.7 + i * 27.6} y={295} width={7.3} height={4.6} fill="none" stroke={cols[i]} strokeWidth={0.7} />
          <line x1={171.7 + i * 27.6} x2={179 + i * 27.6} y1={297.3} y2={297.3} stroke={cols[i]} strokeWidth={0.7} />
          <text x={182.7 + i * 27.4} y={299} fontSize={4.6} fontFamily={SANS} fill="#333">{g}</text>
        </g>
      ))}
    </g>
  );
};

interface ScatterProps {
  pts: Pt[]; hist: number[]; hi: number[]; lo: number[]; fit: Pt; stats: string[];
  yLabel: string; yTicks: number[]; yFmt: (v: number) => string; yMinor: number[];
  x06: number; x12: number; yDomain: Pt; yRange: Pt; left: number; right: number; top: number; bottom: number;
  mTop: number; histX0: number; histPer60: number; histBand: Pt; histTicks: number[];
  titleX: number; titleY: number; subX: number; subY: number; tickY: number; labY: number; labX: number; yLabX: number; yLabY: number;
}

const ScatterPanel = (p: ScatterProps) => {
  const x = d3.scaleLinear().domain([0.6, 1.2]).range([p.x06, p.x12]);
  const y = d3.scaleLinear().domain(p.yDomain).range(p.yRange);
  const mY = d3.scaleLinear().domain([0, 60]).range([p.mTop, p.mTop - 16]);
  const hX = d3.scaleLinear().domain([0, 60]).range([p.histX0, p.histX0 + p.histPer60]);
  const hY = d3.scaleBand<number>().domain(p.hist.map((_, i) => i)).range(p.histBand);
  const xBin = (bandX[bandX.length - 1] - bandX[0]) / 29;
  const area = d3.area<number>().x((_, i) => x(bandX[i])).y0((_, i) => y(p.lo[i])).y1(d => y(d));
  const grid = '#ececec';
  const gridMinor = '#f4f4f4';
  return (
    <g>
      {[0.45, 0.75, 1.05, 1.35].map(t => <line key={t} x1={x(t)} x2={x(t)} y1={p.mTop - 17} y2={p.bottom} stroke={gridMinor} strokeWidth={0.4} />)}
      {[0.6, 0.9, 1.2].map(t => <line key={t} x1={x(t)} x2={x(t)} y1={p.mTop - 17} y2={p.bottom} stroke={grid} strokeWidth={0.5} />)}
      {p.yMinor.map(t => <line key={t} x1={p.left} x2={p.right} y1={y(t)} y2={y(t)} stroke={gridMinor} strokeWidth={0.4} />)}
      {p.yTicks.map(t => <line key={t} x1={p.left} x2={p.right} y1={y(t)} y2={y(t)} stroke={grid} strokeWidth={0.5} />)}
      {[0, 20, 40, 60].map(t => (
        <g key={t}>
          <line x1={p.left} x2={p.right} y1={mY(t)} y2={mY(t)} stroke={grid} strokeWidth={0.4} />
          <line x1={p.left - 2} x2={p.left} y1={mY(t)} y2={mY(t)} stroke="#777" strokeWidth={0.4} />
          <text x={p.left - 2.8} y={mY(t) + 1.5} fontSize={4.4} fontFamily={SANS} textAnchor="end" fill={GREY}>{t}</text>
        </g>
      ))}
      {xCounts.map((c, i) => {
        const cx = x(bandX[0] + i * xBin);
        return <rect key={i} x={cx - (x(xBin) - x(0)) / 2} width={x(xBin) - x(0)} y={mY(c)} height={mY(0) - mY(c)} fill="#009E73" stroke="#222" strokeWidth={0.55} />;
      })}
      {p.histTicks.map(t => (
        <g key={t}>
          <line x1={hX(t)} x2={hX(t)} y1={p.top} y2={p.bottom} stroke={grid} strokeWidth={0.4} />
          <text x={hX(t)} y={p.tickY} fontSize={3.8} fontFamily={SANS} textAnchor="middle" fill={GREY}>{t}</text>
        </g>
      ))}
      {p.hist.map((c, i) => (
        <rect key={i} x={hX(0)} y={hY(i)} width={hX(c) - hX(0)} height={hY.bandwidth()} fill="#D55E00" stroke="#222" strokeWidth={0.55} />
      ))}
      {p.pts.map((d, i) => <circle key={i} cx={x(d[0])} cy={y(d[1])} r={2} fill="#000" fillOpacity={0.42} />)}
      <path d={area(p.hi) || ''} fill="#999" fillOpacity={0.42} />
      <line x1={x(bandX[0])} x2={x(bandX[8])} y1={y(p.fit[0])} y2={y(p.fit[1])} stroke="#0000e0" strokeWidth={1.6} />
      {[0.6, 0.9, 1.2].map(t => (
        <text key={t} x={x(t)} y={p.tickY} fontSize={4.4} fontFamily={SANS} textAnchor="middle" fill={GREY}>{t.toFixed(1)}</text>
      ))}
      {p.yTicks.map(t => (
        <g key={t}>
          <line x1={p.left - 2} x2={p.left} y1={y(t)} y2={y(t)} stroke="#777" strokeWidth={0.4} />
          <text x={p.left - 2.8} y={y(t) + 1.5} fontSize={4.4} fontFamily={SANS} textAnchor="end" fill={GREY}>{p.yFmt(t)}</text>
        </g>
      ))}
      <text x={p.labX} y={p.labY} fontSize={5.4} fontWeight="bold" fontFamily={SANS} textAnchor="middle" fill="#111">NAT10_epi</text>
      <text transform={`translate(${p.yLabX},${p.yLabY}) rotate(-90)`} fontSize={5} fontWeight="bold" fontFamily={SANS} textAnchor="middle" fill="#111">{p.yLabel}</text>
      <Stat x={p.titleX} y={p.titleY} size={5} parts={topParts(p.stats)} />
      <Stat x={p.subX} y={p.subY} size={3.9} parts={bottomParts(p.stats)} />
    </g>
  );
};

const letters: [string, number, number][] = [['A', 2, 19], ['B', 365, 19], ['C', 3, 287], ['D', 363, 288], ['E', 3, 537], ['F', 364, 538], ['G', 6, 830], ['H', 360, 830]];

const App = () => {
  const ePts: Pt[] = eRows.flatMap(([v, xs]) => xs.map(d => [d, v] as Pt));
  const fmt1 = (v: number) => v.toFixed(1).replace('-', '−');
  const fmt0 = (v: number) => String(v).replace('-', '−');
  return (
    <svg width={646} height={1062} style={{ position: 'absolute', left: 0, top: 0, background: '#fff', filter: 'blur(0.35px)' }}>
      {letters.map(([t, x, y]) => <text key={t} x={x} y={y} fontSize={21} fontFamily='"Liberation Serif", serif' fill="#111">{t}</text>)}
      <KmPanel lowCurve={gneLow} highCurve={gneHigh} lowCens={gneLowCens} highCens={gneHighCens} legend="GNE+Epi" p="p = 0.0147337615700109"
        x0={77.3} x150={281.7} y0={204.3} y1={28.7} axisX={67.3} axisY={213} right={292} legendX={251.7} pX={81.7} high="#f0a41e" />
      <KmPanel lowCurve={natLow} highCurve={natHigh} lowCens={natLowCens} highCens={natHighCens} legend="NAT10+Epi" p="p = 0.0123897666349332"
        x0={426.3} x150={631.3} y0={204} y1={28.3} axisX={416.3} axisY={212.3} right={641} legendX={598} pX={430.5} high="#e58a12" />
      <BoxPanel />
      <ScatterPanel pts={dPts} hist={dHist} hi={dHi} lo={dLo} fit={dLine} stats={dStats} yLabel="MSI.Expr.Sig"
        yTicks={[0, 0.25, 0.5, 0.75, 1]} yFmt={v => v.toFixed(2)} yMinor={[0.125, 0.375, 0.625, 0.875]}
        x06={463.3} x12={574.3} yDomain={[0, 1]} yRange={[475.3, 319.7]} left={411.7} right={616.7} top={314} bottom={481.7}
        mTop={307.3} histX0={622.3} histPer60={19.7} histBand={[316.7, 478.3]} histTicks={[0, 20, 40, 60]}
        titleX={410} titleY={285} subX={516.5} subY={506} tickY={491} labY={498} labX={526.7} yLabX={396} yLabY={388} />
      <ScatterPanel pts={ePts} hist={eHist} hi={eHi} lo={eLo} fit={eLine} stats={eStats} yLabel="MCGC"
        yTicks={[-0.2, -0.1, 0, 0.1]} yFmt={fmt1} yMinor={[-0.15, -0.05, 0.05, 0.15]}
        x06={124.7} x12={236} yDomain={[0, 0.1]} yRange={[663.3, 616.7]} left={74} right={276.7} top={583} bottom={757}
        mTop={578.3} histX0={284.3} histPer60={23} histBand={[588.3, 739]} histTicks={[0, 10, 20, 30, 40, 50]}
        titleX={71} titleY={556} subX={183} subY={778} tickY={762} labY={769} labX={187.7} yLabX={58.5} yLabY={659} />
      <ScatterPanel pts={fPts} hist={fHist} hi={fHi} lo={fLo} fit={fLine} stats={fStats} yLabel="CD8"
        yTicks={[-6, -4, -2, 0, 2]} yFmt={fmt0} yMinor={[-5, -3, -1, 1, 3]}
        x06={459.3} x12={573.3} yDomain={[0, 2]} yRange={[644.3, 612.3]} left={405} right={616.7} top={583} bottom={753}
        mTop={578.3} histX0={621.5} histPer60={20} histBand={[588.3, 749.3]} histTicks={[0, 10, 20, 30, 40, 50, 60]}
        titleX={406} titleY={556} subX={523} subY={778} tickY={762} labY={769} labX={524} yLabX={396} yLabY={659} />
      <ScatterPanel pts={gPts} hist={gHist} hi={gHi} lo={gLo} fit={gLine} stats={gStats} yLabel="CD274"
        yTicks={[-6, -3, 0, 3, 6]} yFmt={fmt0} yMinor={[-4.5, -1.5, 1.5, 4.5]}
        x06={127} x12={240.7} yDomain={[0, 3]} yRange={[952.3, 910.3]} left={74} right={281.7} top={865} bottom={1038}
        mTop={859.3} histX0={288.7} histPer60={17.5} histBand={[869, 1030.7]} histTicks={[0, 20, 40, 60]}
        titleX={73.3} titleY={837} subX={183} subY={1059} tickY={1045} labY={1050} labX={191.3} yLabX={62.5} yLabY={940} />
      <ScatterPanel pts={hPts} hist={hHist} hi={hHi} lo={hLo} fit={hLine} stats={hStats} yLabel="Exclusion"
        yTicks={[-2, -1, 0, 1, 2]} yFmt={fmt0} yMinor={[-1.5, -0.5, 0.5, 1.5]}
        x06={459.3} x12={573.3} yDomain={[0, 1]} yRange={[952.3, 914.7]} left={405} right={616.7} top={865} bottom={1033}
        mTop={859.3} histX0={621.5} histPer60={20} histBand={[869, 1030.7]} histTicks={[0, 10, 20, 30, 40, 50]}
        titleX={406} titleY={837} subX={520} subY={1059} tickY={1045} labY={1050} labX={524} yLabX={396} yLabY={940} />
    </svg>
  );
};

export default App;
